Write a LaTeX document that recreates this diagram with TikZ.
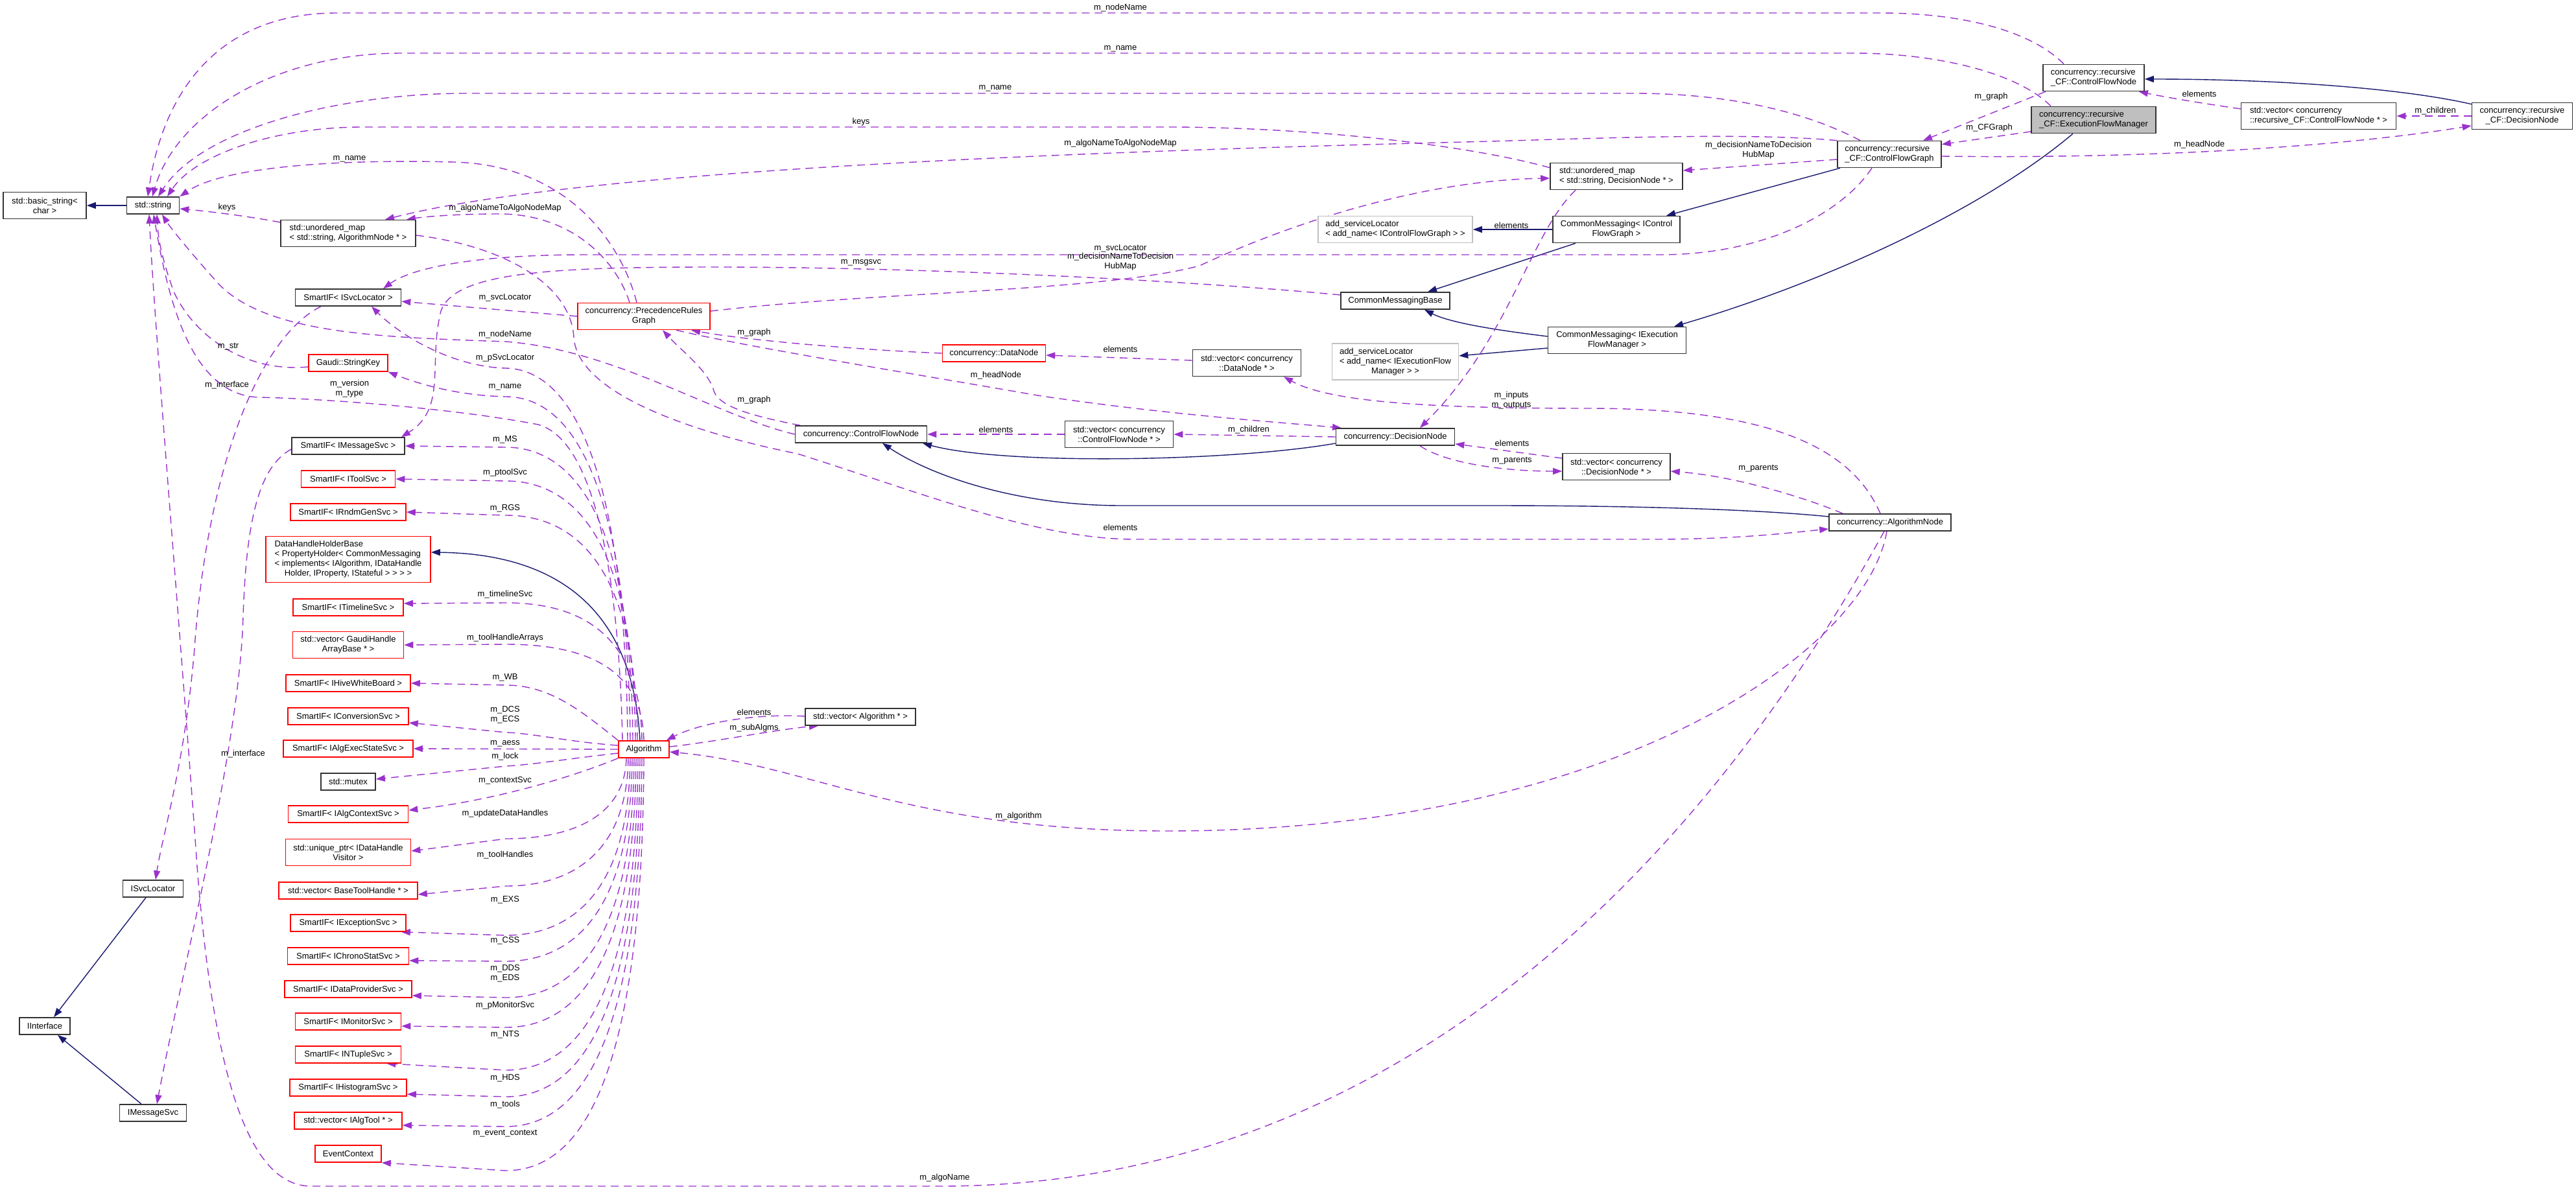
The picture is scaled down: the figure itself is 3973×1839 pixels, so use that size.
\documentclass[tikz,border=0pt]{standalone}
\usepackage{fontspec}
\setmainfont{Liberation Sans}
\usetikzlibrary{arrows.meta}
\definecolor{purp}{HTML}{9A32CD}
\definecolor{navy}{HTML}{191970}
\definecolor{boxk}{HTML}{333333}
\definecolor{boxg}{HTML}{BFBFBF}
\definecolor{boxr}{HTML}{FF0000}
\newcommand\dxf{\fontsize{13}{15}\selectfont}
\pgfdeclarelayer{bg}
\pgfsetlayers{bg,main}
\begin{document}
\begin{tikzpicture}[x=1pt,y=-1pt,
  box/.style={draw=boxk, line width=1.6pt, fill=white, inner sep=0pt, font=\dxf, align=center, minimum height=26pt},
  rbox/.style={box, draw=boxr},
  gbox/.style={box, draw=boxg},
  h2/.style={minimum height=41pt},
  h3/.style={minimum height=56pt},
  h4/.style={minimum height=71pt},
  lbl/.style={font=\dxf, inner sep=0pt, align=center},
  dep/.style={draw=purp, line width=1.4pt, dash pattern=on 12pt off 8pt, -{Triangle[length=14pt,width=10pt]}},
  inh/.style={draw=navy, line width=1.4pt, -{Triangle[length=14pt,width=10pt]}},
]
\useasboundingbox (0,0) rectangle (3973,1839);
% ---------------- nodes ----------------
\node[box, h2, minimum width=128pt] (bstr) at (69,317) {std::basic\_string<\\char >};
\node[box, minimum width=81pt] (str) at (236,317) {std::string};
\node[box, h2, align=left, minimum width=208pt] (mapAlg) at (537,360) {std::unordered\_map\\< std::string, AlgorithmNode * >};
\node[box, minimum width=163pt] (sisl) at (537,459) {SmartIF< ISvcLocator >};
\node[rbox, minimum width=122pt] (skey) at (537,560) {Gaudi::StringKey};
\node[box, minimum width=174pt] (sims) at (537,688) {SmartIF< IMessageSvc >};
\node[rbox, minimum width=145pt] (sits) at (537,739) {SmartIF< IToolSvc >};
\node[rbox, minimum width=178pt] (srnd) at (537,790) {SmartIF< IRndmGenSvc >};
\node[rbox, h4, minimum width=254pt] (dhhb) at (537,863) {\begin{tabular}{@{}l@{}}DataHandleHolderBase\\< PropertyHolder< CommonMessaging\\< implements< IAlgorithm, IDataHandle\\\multicolumn{1}{@{}c@{}}{Holder, IProperty, IStateful > > > >}\end{tabular}};
\node[rbox, minimum width=170pt] (stl) at (537,937) {SmartIF< ITimelineSvc >};
\node[rbox, h2, minimum width=171pt] (vgha) at (537,995) {std::vector< GaudiHandle\\ArrayBase * >};
\node[rbox, minimum width=192pt] (swb) at (537,1054) {SmartIF< IHiveWhiteBoard >};
\node[rbox, minimum width=186pt] (scnv) at (537,1105) {SmartIF< IConversionSvc >};
\node[rbox, minimum width=200pt] (saes) at (537,1155) {SmartIF< IAlgExecStateSvc >};
\node[box, minimum width=84pt] (mtx) at (537,1206) {std::mutex};
\node[rbox, minimum width=185pt] (sctx) at (537,1256) {SmartIF< IAlgContextSvc >};
\node[rbox, h2, minimum width=193pt] (udh) at (537,1315) {std::unique\_ptr< IDataHandle\\Visitor >};
\node[rbox, minimum width=214pt] (vbth) at (537,1374) {std::vector< BaseToolHandle * >};
\node[rbox, minimum width=178pt] (sexc) at (537,1424) {SmartIF< IExceptionSvc >};
\node[rbox, minimum width=187pt] (schr) at (537,1475) {SmartIF< IChronoStatSvc >};
\node[rbox, minimum width=196pt] (sdp) at (537,1526) {SmartIF< IDataProviderSvc >};
\node[rbox, minimum width=163pt] (smon) at (537,1576) {SmartIF< IMonitorSvc >};
\node[rbox, minimum width=163pt] (snt) at (537,1627) {SmartIF< INTupleSvc >};
\node[rbox, minimum width=180pt] (shis) at (537,1678) {SmartIF< IHistogramSvc >};
\node[rbox, minimum width=166pt] (vtool) at (537,1729) {std::vector< IAlgTool * >};
\node[rbox, minimum width=102pt] (evc) at (537,1780) {EventContext};
\node[box, minimum width=93pt] (isl) at (236,1371) {ISvcLocator};
\node[box, minimum width=78pt] (iif) at (69,1583) {IInterface};
\node[box, minimum width=103pt] (ims) at (236,1717) {IMessageSvc};
\node[rbox, minimum width=78pt] (alg) at (993,1156) {Algorithm};
\node[box, minimum width=170pt] (valg) at (1327,1106) {std::vector< Algorithm * >};
\node[rbox, h2, minimum width=204pt] (prg) at (993,488) {concurrency::PrecedenceRules\\Graph};
\node[rbox, minimum width=159pt] (dn) at (1533,545) {concurrency::DataNode};
\node[box, h2, minimum width=167pt] (vdn) at (1923,560) {std::vector< concurrency\\::DataNode * >};
\node[box, minimum width=203pt] (cfn) at (1328,670) {concurrency::ControlFlowNode};
\node[box, h2, minimum width=167pt] (vcfn) at (1726,670) {std::vector< concurrency\\::ControlFlowNode * >};
\node[box, minimum width=183pt] (dec) at (2152,674) {concurrency::DecisionNode};
\node[box, h2, minimum width=166pt] (vdec) at (2493,720) {std::vector< concurrency\\::DecisionNode * >};
\node[box, minimum width=188pt] (algn) at (2915,806) {concurrency::AlgorithmNode};
\node[box, minimum width=168pt] (cmb) at (2152,464) {CommonMessagingBase};
\node[box, h2, minimum width=213pt] (cmefm) at (2494,525) {CommonMessaging< IExecution\\FlowManager >};
\node[gbox, h3, minimum width=195pt] (asefm) at (2152,558) {\begin{tabular}{@{}l@{}}add\_serviceLocator\\< add\_name< IExecutionFlow\\\multicolumn{1}{@{}c@{}}{Manager > >}\end{tabular}};
\node[gbox, h2, align=left, minimum width=238pt] (ascfg) at (2152,354) {add\_serviceLocator\\< add\_name< IControlFlowGraph > >};
\node[box, h2, minimum width=196pt] (cmcfg) at (2493,354) {CommonMessaging< IControl\\FlowGraph >};
\node[box, h2, align=left, minimum width=204pt] (mapDec) at (2493,272) {std::unordered\_map\\< std::string, DecisionNode * >};
\node[box, h2, align=left, minimum width=160pt] (cfg) at (2914,238) {concurrency::recursive\\\_CF::ControlFlowGraph};
\node[box, h2, align=left, minimum width=156pt] (rcfn) at (3229,120) {concurrency::recursive\\\_CF::ControlFlowNode};
\node[box, h2, align=left, fill=boxg, minimum width=192pt] (efm) at (3229,185) {concurrency::recursive\\\_CF::ExecutionFlowManager};
\node[box, h2, align=left, minimum width=239pt] (vrcfn) at (3576,179) {std::vector< concurrency\\::recursive\_CF::ControlFlowNode * >};
\node[box, h2, minimum width=155pt] (rdec) at (3890,179) {concurrency::recursive\\\_CF::DecisionNode};
% ---------------- labels ----------------
\node[lbl] (l01) at (1728,12) {m\_nodeName};
\node[lbl] (l02) at (1728,75) {m\_name};
\node[lbl] (l03) at (1535,136) {m\_name};
\node[lbl] (l04) at (1328,188) {keys};
\node[lbl] (l05) at (1728,221) {m\_algoNameToAlgoNodeMap};
\node[lbl] (l06) at (2712,232) {m\_decisionNameToDecision\\HubMap};
\node[lbl] (l07) at (3071,149) {m\_graph};
\node[lbl] (l08) at (3068,197) {m\_CFGraph};
\node[lbl] (l09) at (3392,145) {elements};
\node[lbl] (l10) at (3756,171) {m\_children};
\node[lbl] (l11) at (3392,223) {m\_headNode};
\node[lbl] (l12) at (2331,348) {elements};
\node[lbl] (l13) at (1728,383) {m\_svcLocator};
\node[lbl] (l14) at (1728,404) {m\_decisionNameToDecision\\HubMap};
\node[lbl] (l15) at (1328,405) {m\_msgsvc};
\node[lbl] (l16) at (539,245) {m\_name};
\node[lbl] (l17) at (350,320) {keys};
\node[lbl] (l18) at (779,321) {m\_algoNameToAlgoNodeMap};
\node[lbl] (l19) at (779,459) {m\_svcLocator};
\node[lbl] (l20) at (1163,513) {m\_graph};
\node[lbl] (l21) at (1163,617) {m\_graph};
\node[lbl] (l22) at (779,516) {m\_nodeName};
\node[lbl] (l23) at (779,552) {m\_pSvcLocator};
\node[lbl] (l24) at (779,597) {m\_name};
\node[lbl] (l25) at (352,535) {m\_str};
\node[lbl] (l26) at (350,594) {m\_interface};
\node[lbl] (l27) at (539,600) {m\_version\\m\_type};
\node[lbl] (l28) at (1728,539) {elements};
\node[lbl] (l29) at (1536,579) {m\_headNode};
\node[lbl] (l30) at (1536,663) {elements};
\node[lbl] (l31) at (1926,663) {m\_children};
\node[lbl] (l32) at (2331,618) {m\_inputs\\m\_outputs};
\node[lbl] (l33) at (2332,684) {elements};
\node[lbl] (l34) at (2332,711) {m\_parents};
\node[lbl] (l35) at (2712,723) {m\_parents};
\node[lbl] (l36) at (1728,814) {elements};
\node[lbl] (l37) at (779,678) {m\_MS};
\node[lbl] (l38) at (779,729) {m\_ptoolSvc};
\node[lbl] (l39) at (779,784) {m\_RGS};
\node[lbl] (l40) at (779,917) {m\_timelineSvc};
\node[lbl] (l41) at (779,984) {m\_toolHandleArrays};
\node[lbl] (l42) at (779,1045) {m\_WB};
\node[lbl] (l43) at (779,1103) {m\_DCS\\m\_ECS};
\node[lbl] (l44) at (779,1147) {m\_aess};
\node[lbl] (l45) at (779,1167) {m\_lock};
\node[lbl] (l46) at (779,1204) {m\_contextSvc};
\node[lbl] (l47) at (779,1255) {m\_updateDataHandles};
\node[lbl] (l48) at (779,1319) {m\_toolHandles};
\node[lbl] (l49) at (779,1388) {m\_EXS};
\node[lbl] (l50) at (779,1451) {m\_CSS};
\node[lbl] (l51) at (779,1502) {m\_DDS\\m\_EDS};
\node[lbl] (l52) at (779,1551) {m\_pMonitorSvc};
\node[lbl] (l53) at (779,1596) {m\_NTS};
\node[lbl] (l54) at (779,1663) {m\_HDS};
\node[lbl] (l55) at (779,1704) {m\_tools};
\node[lbl] (l56) at (779,1749) {m\_event\_context};
\node[lbl] (l57) at (1163,1099) {elements};
\node[lbl] (l58) at (1163,1123) {m\_subAlgms};
\node[lbl] (l59) at (1571,1259) {m\_algorithm};
\node[lbl] (l60) at (1457,1817) {m\_algoName};
\node[lbl] (l61) at (375,1163) {m\_interface};
% ---------------- edges ----------------
\begin{pgfonlayer}{bg}
\fill[white] (0,0) rectangle (3973,1839);
% inheritance
\draw[inh] (str.west) -- (bstr.east);
\draw[inh] ([xshift=-11]isl.south) -- ([xshift=14]iif.north);
\draw[inh] ([xshift=-18]ims.north) -- ([xshift=20]iif.south);
\draw[inh] ([xshift=-6]alg.north) .. controls (978,970) and (890,855) .. ([yshift=11]dhhb.east);
\draw[inh] ([yshift=-3]rdec.north west) .. controls (3700,135) and (3500,122) .. ([yshift=-2]rcfn.east);
\draw[inh] ([xshift=-32]efm.south) .. controls (3050,330) and (2800,440) .. ([xshift=88]cmefm.north);
\draw[inh] ([xshift=-76]cfg.south) -- ([xshift=77]cmcfg.north);
\draw[inh] ([xshift=-63]cmcfg.south) -- ([xshift=50]cmb.north);
\draw[inh] (cmcfg.west) -- (ascfg.east);
\draw[inh] ([yshift=6]cmefm.west) .. controls (2330,512) and (2240,500) .. ([xshift=45]cmb.south);
\draw[inh] ([yshift=-12]cmefm.west) -- ([yshift=9]asefm.east);
\draw[inh] ([yshift=9]algn.west) .. controls (2700,785) and (2500,780) .. (2300,780) -- (1730,780) .. controls (1560,780) and (1430,730) .. ([xshift=33]cfn.south);
\draw[inh] ([yshift=-10]dec.west) .. controls (1900,712) and (1550,718) .. ([xshift=95]cfn.south);
% top lines to std::string
\draw[dep] ([xshift=-46]rcfn.north) .. controls (3130,45) and (3020,20) .. (2900,20) -- (520,20) .. controls (330,20) and (250,150) .. ([xshift=-8]str.north);
\draw[dep] ([xshift=-66]efm.north) .. controls (3110,110) and (2980,82) .. (2860,82) -- (620,82) .. controls (420,82) and (270,180) .. ([xshift=-1]str.north);
\draw[dep] ([xshift=-45]cfg.north) .. controls (2780,170) and (2660,144) .. (2520,144) -- (720,144) .. controls (520,144) and (310,200) .. ([xshift=8]str.north);
\draw[dep] ([yshift=-8]mapDec.north west) .. controls (2250,220) and (2000,196) .. (1800,196) -- (560,196) .. controls (420,196) and (300,240) .. ([xshift=22]str.north);
\draw[dep] ([xshift=-11]prg.north) .. controls (960,380) and (880,255) .. (700,250) .. controls (500,245) and (340,260) .. (str.north east);
\draw[dep] ([yshift=17]mapAlg.west) .. controls (380,333) and (320,326) .. ([yshift=-5]str.east);
% maps
\draw[dep] (cfg.north west) .. controls (2700,205) and (2500,212) .. (2300,218) .. controls (1700,233) and (900,260) .. ([xshift=57]mapAlg.north);
\draw[dep] ([xshift=-22]prg.north) .. controls (950,400) and (880,330) .. (770,330) .. controls (700,330) and (650,335) .. ([xshift=90]mapAlg.north);
\draw[dep] ([yshift=-8]cfg.west) -- ([yshift=9]mapDec.east);
\draw[dep] ([yshift=8]prg.east) .. controls (1350,450) and (1700,450) .. (1850,410) .. controls (2000,340) and (2200,278) .. ([yshift=-3]mapDec.west);
\draw[dep] ([xshift=-27]cfg.south) .. controls (2840,330) and (2720,393) .. (2560,393) -- (900,393) .. controls (750,393) and (640,410) .. ([xshift=54]sisl.north);
\draw[dep] ([yshift=9]cmb.west) .. controls (1800,430) and (1400,412) .. (1100,412) .. controls (850,412) and (700,420) .. (680,480) .. controls (660,560) and (690,630) .. ([xshift=82]sims.north);
\draw[dep] (prg.west) -- ([yshift=-6]sisl.east);
\draw[dep] (dn.west) .. controls (1330,540) and (1150,525) .. ([xshift=73]prg.south);
\draw[dep] ([xshift=-94]cfn.north) .. controls (1150,640) and (1105,625) .. (1100,600) .. controls (1090,570) and (1050,540) .. ([xshift=29]prg.south);
\draw[dep] ([xshift=50]prg.south) .. controls (1150,535) and (1400,575) .. (1600,610) .. controls (1800,640) and (1980,652) .. ([xshift=-83]dec.north);
\draw[dep] (cfn.west) .. controls (1100,640) and (950,540) .. (780,527) .. controls (580,520) and (400,515) .. (330,430) .. controls (290,385) and (262,350) .. ([xshift=14]str.south);
\draw[dep] ([yshift=-6]skey.west) .. controls (380,575) and (300,520) .. (268,450) .. controls (250,400) and (244,370) .. ([xshift=6]str.south);
\draw[dep] ([xshift=-33]alg.north) .. controls (955,900) and (920,680) .. (830,655) .. controls (700,630) and (500,615) .. (400,613) .. controls (300,610) and (262,480) .. ([xshift=1]str.south);
\draw[dep] ([xshift=-9]algn.south) .. controls (2750,1100) and (2300,1830) .. (1450,1830) -- (480,1830) .. controls (380,1830) and (330,1650) .. (305,1350) .. controls (280,1000) and (238,500) .. ([xshift=-6]str.south);
\draw[dep] ([xshift=-5]algn.south) .. controls (2880,1000) and (2500,1282) .. (1800,1282) .. controls (1400,1282) and (1250,1180) .. ([yshift=-4]alg.east);
\draw[dep] ([xshift=-42]sisl.south) .. controls (400,520) and (320,720) .. (300,1000) .. controls (285,1180) and (250,1290) .. ([xshift=4]isl.north);
\draw[dep] ([yshift=-5]sims.west) .. controls (400,720) and (380,800) .. (375,950) .. controls (370,1150) and (280,1500) .. ([xshift=6]ims.north);
% Algorithm upward
\draw[dep] ([xshift=-25]alg.north) .. controls (965,770) and (898,570) .. (780,568) .. controls (700,566) and (620,520) .. ([xshift=36]sisl.south);
\draw[dep] ([xshift=-21]alg.north) .. controls (969,800) and (902,612) .. (780,612) .. controls (700,610) and (640,590) .. (skey.south east);
\draw[dep] ([xshift=-17]alg.north) .. controls (974,803) and (886,690) .. (780,690) -- (sims.east);
\draw[dep] ([xshift=-13]alg.north) .. controls (978,842) and (890,742) .. (780,742) -- (sits.east);
\draw[dep] ([xshift=-10]alg.north) .. controls (981,882) and (893,795) .. (780,795) -- (srnd.east);
\draw[dep] ([xshift=-3]alg.north) .. controls (988,983) and (900,930) .. (780,930) -- ([yshift=6]stl.east);
\draw[dep] (alg.north) .. controls (991,1031) and (903,994) .. (780,994) -- (vgha.east);
\draw[dep] (alg.north west) .. controls (900,1100) and (850,1057) .. (780,1057) -- (swb.east);
\draw[dep] ([yshift=6]alg.west) .. controls (880,1145) and (820,1131) .. (780,1130) -- ([yshift=-10]scnv.east);
\draw[dep] (alg.west) -- (saes.east);
\draw[dep] ([yshift=-6]alg.west) .. controls (880,1170) and (820,1180) .. (780,1182) -- ([yshift=4]mtx.east);
% Algorithm downward
\draw[dep] (alg.south west) .. controls (880,1200) and (760,1235) .. ([yshift=6]sctx.east);
\draw[dep] ([xshift=-27]alg.south) .. controls (964,1263) and (876,1294) .. (780,1294) -- ([yshift=2]udh.east);
\draw[dep] ([xshift=-24]alg.south) .. controls (967,1318) and (879,1367) .. (780,1367) -- ([yshift=-6]vbth.east);
\draw[dep] ([xshift=-21]alg.south) .. controls (970,1375) and (882,1443) .. (780,1443) -- ([xshift=-8]sexc.south east);
\draw[dep] ([xshift=-18]alg.south) .. controls (973,1405) and (885,1483) .. (780,1483) -- ([yshift=-7]schr.east);
\draw[dep] ([xshift=-15]alg.south) .. controls (976,1447) and (888,1539) .. (780,1539) -- ([yshift=-10]sdp.east);
\draw[dep] ([xshift=-12]alg.south) .. controls (979,1481) and (891,1585) .. (780,1585) -- ([yshift=-7]smon.east);
\draw[dep] ([xshift=-9]alg.south) .. controls (982,1531) and (894,1651) .. (780,1651) -- ([xshift=-23]snt.south east);
\draw[dep] ([xshift=-6]alg.south) .. controls (985,1561) and (897,1692) .. (780,1692) -- ([yshift=-10]shis.east);
\draw[dep] ([xshift=-3]alg.south) .. controls (988,1596) and (900,1738) .. (780,1738) -- ([yshift=-7]vtool.east);
\draw[dep] (alg.south) .. controls (991,1647) and (903,1806) .. (780,1806) -- (evc.south east);
% vector<Algorithm*>
\draw[dep] ([yshift=1]valg.west) .. controls (1150,1100) and (1070,1120) .. ([xshift=-5]alg.north east);
\draw[dep] ([yshift=4]alg.east) .. controls (1100,1145) and (1200,1125) .. ([xshift=-65]valg.south);
% middle
\draw[dep] ([yshift=4]vdn.west) -- ([yshift=-3]dn.east);
\draw[dep] (vcfn.west) -- (cfn.east);
\draw[dep] (dec.west) -- (vcfn.east);
\draw[dep] ([yshift=13]vdec.west) -- ([yshift=3]dec.south east);
\draw[dep] ([xshift=38]dec.south) .. controls (2230,715) and (2320,727) .. ([yshift=-7]vdec.west);
\draw[dep] ([xshift=-73]algn.north) .. controls (2790,770) and (2680,735) .. ([yshift=-7]vdec.east);
\draw[dep] ([xshift=-15]algn.north) .. controls (2860,700) and (2750,630) .. (2450,630) .. controls (2200,630) and (2050,620) .. ([xshift=57]vdn.south);
\draw[dep] ([xshift=-63]mapDec.south) .. controls (2360,360) and (2330,520) .. ([xshift=38]dec.north);
\draw[dep] ([yshift=-3]mapAlg.east) .. controls (780,380) and (880,440) .. (885,520) .. controls (890,610) and (1080,670) .. (1230,700) .. controls (1420,760) and (1600,832) .. (1750,832) -- (2550,832) .. controls (2680,832) and (2760,822) .. ([yshift=-10]algn.west);
% top right
\draw[dep] ([xshift=-74]rcfn.south) -- ([xshift=52]cfg.north);
\draw[dep] ([yshift=-18]efm.west) -- ([yshift=-6]cfg.north east);
\draw[dep] ([yshift=-3]cfg.east) .. controls (3300,245) and (3600,228) .. ([yshift=-15]rdec.west);
\draw[dep] ([yshift=11]vrcfn.west) .. controls (3400,160) and (3340,150) .. ([xshift=-9]rcfn.south east);
\draw[dep] (rdec.west) -- (vrcfn.east);
\end{pgfonlayer}
\end{tikzpicture}
\end{document}
